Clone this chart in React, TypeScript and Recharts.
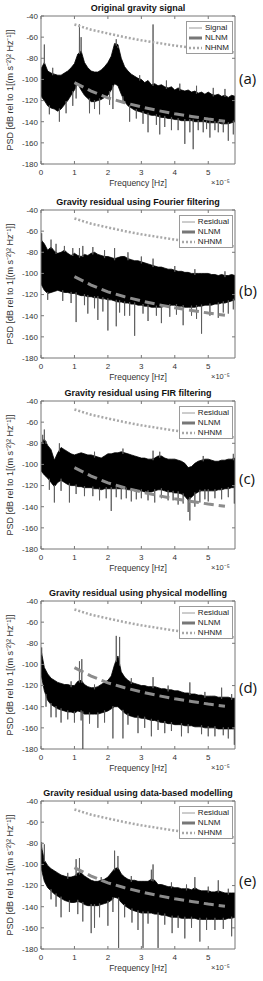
import { ComposedChart, Area, Line, XAxis, YAxis, ReferenceArea } from "recharts";

// frequency grid (x 1e-5 Hz)
const FREQ = [
  0, 0.1, 0.2, 0.3, 0.4, 0.5, 0.6, 0.7, 0.8, 0.9, 1, 1.1, 1.2, 1.3, 1.4, 1.5, 1.6, 1.7, 1.8, 1.9,
  2, 2.1, 2.2, 2.3, 2.4, 2.5, 2.6, 2.7, 2.8, 2.9, 3, 3.1, 3.2, 3.3, 3.4, 3.5, 3.6, 3.7, 3.8, 3.9,
  4, 4.1, 4.2, 4.3, 4.4, 4.5, 4.6, 4.7, 4.8, 4.9, 5, 5.1, 5.2, 5.3, 5.4, 5.5, 5.6, 5.7, 5.8,
];

// dense part of each PSD (upper / lower edge, dB)
const A_HI = [
  -90, -84, -92, -94, -95, -96, -96, -94, -92, -89, -85, -76, -73, -84, -89, -92, -93, -93, -91, -88,
  -84, -78, -66, -67, -80, -88, -92, -95, -97, -99, -100, -103, -101, -105, -104, -106, -105, -107, -108, -107,
  -110, -108, -110, -111, -110, -112, -111, -113, -112, -114, -112, -114, -115, -114, -116, -115, -117, -115, -116,
];
const A_LO = [
  -116, -120, -125, -127, -128, -130, -128, -124, -120, -115, -110, -104, -110, -115, -118, -121, -121, -120, -119, -117,
  -115, -110, -104, -106, -114, -121, -125, -127, -129, -130, -131, -132, -133, -134, -134, -135, -136, -136, -137, -137,
  -138, -138, -139, -139, -139, -139, -140, -140, -140, -140, -141, -141, -141, -141, -142, -142, -142, -141, -140,
];
const B_HI = [
  -68, -72, -78, -75, -79, -81, -80, -78, -81, -83, -81, -83, -84, -82, -83, -81, -80, -82, -83, -84,
  -84, -85, -86, -85, -84, -84, -86, -87, -88, -88, -89, -90, -91, -92, -93, -94, -94, -95, -96, -96,
  -97, -98, -98, -99, -99, -100, -100, -100, -100, -100, -100, -101, -101, -102, -101, -102, -102, -101, -102,
];
const B_LO = [
  -110, -116, -119, -118, -117, -116, -117, -118, -118, -119, -119, -120, -121, -121, -122, -122, -123, -123, -124, -124,
  -125, -125, -126, -127, -127, -128, -128, -129, -129, -130, -130, -131, -131, -132, -132, -132, -132, -131, -131, -130,
  -130, -131, -131, -132, -132, -132, -132, -131, -131, -130, -130, -130, -129, -129, -128, -128, -127, -126, -125,
];
const C_HI = [
  -80, -76, -82, -86, -96, -89, -84, -86, -88, -90, -91, -90, -89, -90, -91, -91, -92, -93, -94, -92,
  -90, -90, -89, -89, -88, -89, -90, -91, -92, -93, -94, -94, -95, -95, -94, -92, -92, -94, -95, -95,
  -95, -96, -97, -99, -103, -102, -99, -97, -96, -95, -95, -96, -97, -97, -96, -96, -95, -95, -94,
];
const C_LO = [
  -106, -110, -113, -117, -121, -117, -115, -117, -119, -120, -120, -121, -121, -122, -122, -122, -123, -123, -124, -123,
  -123, -123, -123, -123, -123, -123, -124, -124, -125, -125, -125, -126, -126, -126, -125, -124, -124, -125, -126, -126,
  -127, -127, -128, -130, -134, -131, -128, -126, -125, -125, -125, -125, -125, -124, -124, -123, -123, -122, -122,
];
const D_HI = [
  -86, -103, -109, -113, -115, -117, -118, -119, -119, -120, -120, -116, -115, -119, -121, -122, -122, -121, -119, -117,
  -115, -111, -100, -92, -107, -112, -115, -117, -118, -119, -120, -120, -121, -121, -121, -122, -123, -123, -124, -124,
  -125, -125, -126, -127, -127, -128, -128, -129, -129, -130, -130, -130, -130, -131, -131, -131, -131, -132, -132,
];
const D_LO = [
  -109, -125, -134, -138, -140, -142, -143, -144, -145, -145, -146, -144, -145, -147, -147, -147, -147, -147, -146, -145,
  -144, -142, -140, -140, -143, -146, -148, -149, -150, -150, -151, -151, -152, -153, -153, -154, -155, -155, -156, -156,
  -157, -157, -157, -158, -158, -158, -159, -159, -159, -160, -160, -160, -160, -161, -161, -161, -161, -161, -161,
];
const E_HI = [
  -81, -96, -101, -104, -106, -108, -110, -111, -112, -112, -111, -108, -108, -111, -113, -115, -116, -116, -115, -114,
  -112, -108, -104, -103, -109, -112, -114, -115, -115, -116, -116, -116, -116, -114, -115, -119, -119, -120, -121, -121,
  -122, -122, -123, -123, -123, -124, -122, -124, -125, -125, -125, -126, -126, -125, -126, -127, -127, -127, -127,
];
const E_LO = [
  -103, -116, -122, -125, -128, -130, -132, -134, -135, -136, -136, -135, -136, -138, -139, -139, -139, -139, -138, -137,
  -136, -134, -131, -132, -136, -139, -141, -143, -144, -145, -146, -146, -146, -146, -147, -147, -148, -148, -149, -150,
  -150, -150, -151, -151, -151, -151, -151, -152, -152, -152, -152, -152, -152, -152, -152, -152, -151, -151, -150,
];

// isolated spikes [freq, tip dB]
const A_SPIKES: [number, number][] = [
  [0.1, -67], [0.25, -133], [0.35, -89], [0.55, -140], [0.75, -132], [0.95, -125], [1.05, -118], [1.15, -48],
  [1.2, -60], [1.45, -132], [1.6, -128], [1.75, -133], [2.05, -124], [2.15, -128], [2.25, -62], [2.3, -70],
  [2.45, -122], [2.65, -140], [2.85, -137], [2.95, -96], [3.05, -142], [3.2, -150], [3.35, -48], [3.45, -143],
  [3.55, -152], [3.7, -145], [3.75, -101], [3.9, -148], [4.1, -148], [4.15, -104], [4.3, -161], [4.45, -150],
  [4.55, -166], [4.65, -106], [4.7, -148], [4.85, -150], [4.95, -147], [5.05, -155], [5.15, -108], [5.2, -148],
  [5.3, -150], [5.45, -150], [5.5, -109], [5.6, -158], [5.75, -152],
];
const B_SPIKES: [number, number][] = [
  [0.02, -62], [0.2, -125], [0.3, -68], [0.45, -72], [0.65, -126], [0.7, -74], [0.9, -128], [0.95, -76],
  [1.05, -146], [1.15, -76], [1.25, -74], [1.3, -130], [1.4, -138], [1.55, -75], [1.6, -133], [1.7, -144],
  [1.85, -136], [1.9, -78], [2.0, -154], [2.2, -76], [2.25, -150], [2.35, -137], [2.5, -140], [2.6, -80],
  [2.65, -140], [2.8, -159], [3.0, -84], [3.05, -138], [3.2, -145], [3.35, -86], [3.45, -140], [3.6, -147],
  [3.85, -141], [4.0, -93], [4.05, -139], [4.25, -149], [4.5, -140], [4.6, -96], [4.65, -143], [4.8, -157],
  [5.05, -140], [5.3, -142], [5.45, -137], [5.5, -98], [5.6, -138], [5.75, -134],
];
const C_SPIKES: [number, number][] = [
  [0.05, -72], [0.1, -67], [0.15, -78], [0.25, -124], [0.4, -136], [0.55, -80], [0.6, -125], [0.85, -136],
  [1.05, -128], [1.3, -130], [1.55, -130], [1.6, -88], [1.75, -134], [1.95, -132], [2.1, -144], [2.25, -131],
  [2.4, -133], [2.45, -85], [2.55, -132], [2.7, -135], [2.85, -133], [3.0, -132], [3.2, -134], [3.35, -87],
  [3.4, -136], [3.55, -88], [3.6, -132], [3.8, -134], [3.95, -134], [4.1, -138], [4.25, -137], [4.4, -145],
  [4.45, -153], [4.6, -140], [4.75, -136], [4.85, -92], [4.9, -133], [5.0, -135], [5.2, -132], [5.4, -133],
  [5.6, -131], [5.75, -90], [5.78, -137],
];
const D_SPIKES: [number, number][] = [
  [0.02, -84], [0.15, -140], [0.3, -150], [0.45, -150], [0.6, -155], [0.8, -152], [0.9, -116], [1.0, -155],
  [1.15, -97], [1.2, -153], [1.22, -95], [1.25, -180], [1.45, -156], [1.6, -119], [1.7, -160], [1.9, -155],
  [2.15, -170], [2.25, -73], [2.35, -74], [2.45, -170], [2.6, -157], [2.7, -113], [2.9, -165], [3.1, -160],
  [3.3, -168], [3.35, -112], [3.5, -162], [3.7, -165], [3.8, -120], [3.9, -163], [4.2, -168], [4.4, -165],
  [4.45, -117], [4.8, -166], [4.9, -126], [5.0, -168], [5.2, -168], [5.4, -122], [5.45, -167], [5.6, -170],
  [5.7, -128], [5.78, -176],
];
const E_SPIKES: [number, number][] = [
  [0.02, -79], [0.1, -81], [0.3, -133], [0.45, -140], [0.6, -150], [0.8, -108], [0.85, -145], [1.05, -95],
  [1.1, -147], [1.15, -94], [1.25, -154], [1.5, -165], [1.6, -160], [1.75, -150], [1.8, -112], [2.0, -158],
  [2.15, -145], [2.2, -87], [2.3, -92], [2.32, -179], [2.5, -150], [2.7, -111], [2.72, -155], [2.9, -162],
  [3.05, -179], [3.2, -156], [3.3, -105], [3.35, -100], [3.5, -179], [3.7, -157], [3.9, -117], [3.92, -165],
  [4.1, -160], [4.3, -170], [4.35, -119], [4.5, -160], [4.6, -112], [4.75, -173], [4.95, -162], [5.0, -121],
  [5.2, -162], [5.3, -115], [5.45, -161], [5.6, -123], [5.7, -168],
];

// Peterson noise models
const NLNM_FREQ = [1.0, 1.5, 2.0, 2.5, 3.0, 3.5, 4.0, 4.5, 5.0, 5.5];
const NLNM_DB = [-103, -111, -117.5, -122, -126, -129.5, -132.5, -135, -137.5, -139.5];
const NHNM_FREQ = [1.0, 1.5, 2.0, 2.5, 3.0, 3.5, 4.0, 4.5, 5.0, 5.5, 5.8];
const NHNM_DB = [-48, -53, -56.5, -60, -63, -65.5, -68, -70, -72, -73.5, -74.5];

const X_TICKS = [0, 1, 2, 3, 4, 5];
const Y_TICKS = [-180, -160, -140, -120, -100, -80, -60, -40];

const FONT = "'Liberation Sans', Arial, sans-serif";

const PANELS = [
  { title: "Original gravity signal", trace: "Signal", letter: "(a)", hi: A_HI, lo: A_LO, spikes: A_SPIKES, top: 16, letterY: 62 },
  { title: "Gravity residual using Fourier filtering", trace: "Residual", letter: "(b)", hi: B_HI, lo: B_LO, spikes: B_SPIKES, top: 210, letterY: 80 },
  { title: "Gravity residual using FIR filtering", trace: "Residual", letter: "(c)", hi: C_HI, lo: C_LO, spikes: C_SPIKES, top: 401, letterY: 77 },
  { title: "Gravity residual using physical modelling", trace: "Residual", letter: "(d)", hi: D_HI, lo: D_LO, spikes: D_SPIKES, top: 601, letterY: 86 },
  { title: "Gravity residual using data-based modelling", trace: "Residual", letter: "(e)", hi: E_HI, lo: E_LO, spikes: E_SPIKES, top: 801, letterY: 79 },
];

const nlnmData = NLNM_FREQ.map((f, i) => ({ f, v: NLNM_DB[i] }));
const nhnmData = NHNM_FREQ.map((f, i) => ({ f, v: NHNM_DB[i] }));

// edge of the dense band at a spike's frequency, so the spike starts there
function edgeAt(arr: number[], f: number) {
  const i = Math.min(57, Math.floor(f * 10 + 1e-9));
  const t = f * 10 - i;
  return arr[i] * (1 - t) + arr[i + 1] * t;
}

function spikeLine(hi: number[], lo: number[], spikes: [number, number][]) {
  const pts: { f: number; v: number | null }[] = [];
  [...spikes]
    .sort((a, b) => a[0] - b[0])
    .forEach(([f, tip]) => {
      const top = edgeAt(hi, f);
      const bot = edgeAt(lo, f);
      const base = tip > (top + bot) / 2 ? top - 1.5 : bot + 1.5;
      pts.push({ f: f - 0.004, v: base }, { f, v: tip }, { f: f + 0.004, v: base }, { f: f + 0.005, v: null });
    });
  return pts;
}

const PLOT_H = 148;
const TOP_M = 16;
const AXIS_TICK = { fontSize: 8, fill: "#333", fontFamily: FONT };
// mirrored box axes: tick marks only, no labels
const noLabel = () => <g />;

function LegendBox({ trace, top }: { trace: string; top: number }) {
  const rows = [
    { name: trace, el: <line x1={0} y1={5} x2={13} y2={5} stroke="#9a9a9a" strokeWidth={1} /> },
    { name: "NLNM", el: <line x1={0} y1={5} x2={13} y2={5} stroke="#777" strokeWidth={3} /> },
    { name: "NHNM", el: <line x1={0} y1={5} x2={13} y2={5} stroke="#a8a8a8" strokeWidth={2.5} strokeDasharray="2 2" /> },
  ];
  return (
    <div
      style={{
        position: "absolute",
        right: 30,
        top: top + 5,
        background: "#fff",
        border: "1px solid #9a9a9a",
        padding: "1px 3px 0px 2px",
        fontSize: 8,
        lineHeight: "10px",
        color: "#222",
        fontFamily: FONT,
      }}
    >
      {rows.map((r) => (
        <div key={r.name} style={{ display: "flex", alignItems: "center", height: 10 }}>
          <svg width={14} height={10} style={{ marginRight: 2 }}>
            {r.el}
          </svg>
          <span>{r.name}</span>
        </div>
      ))}
    </div>
  );
}

function Panel({ p }: { p: (typeof PANELS)[number] }) {
  const band = FREQ.map((f, i) => ({ f, band: [p.lo[i], p.hi[i]] }));
  const spikes = spikeLine(p.hi, p.lo, p.spikes);
  const plotBottom = p.top + PLOT_H;
  return (
    <>
      <div style={{ position: "absolute", left: 0, top: p.top - TOP_M }}>
        <ComposedChart
          width={263}
          height={TOP_M + PLOT_H + 30}
          data={band}
          margin={{ top: 0, right: 0, left: 0, bottom: 0 }}
        >
          <XAxis
            dataKey="f"
            type="number"
            domain={[0, 5.8]}
            ticks={X_TICKS}
            allowDataOverflow
            height={30}
            axisLine={false}
            tickSize={-3}
            tickMargin={8}
            tickLine={{ stroke: "#777" }}
            tick={AXIS_TICK}
          />
          <XAxis
            xAxisId="top"
            orientation="top"
            dataKey="f"
            type="number"
            domain={[0, 5.8]}
            ticks={X_TICKS}
            allowDataOverflow
            height={TOP_M}
            axisLine={false}
            tickSize={-3}
            tickLine={{ stroke: "#777" }}
            tick={noLabel}
          />
          <YAxis
            type="number"
            domain={[-180, -40]}
            ticks={Y_TICKS}
            allowDataOverflow
            width={41}
            axisLine={false}
            tickSize={-3}
            tickMargin={6}
            tickLine={{ stroke: "#777" }}
            tick={AXIS_TICK}
          />
          <YAxis
            yAxisId="right"
            orientation="right"
            type="number"
            domain={[-180, -40]}
            ticks={Y_TICKS}
            allowDataOverflow
            width={28}
            axisLine={false}
            tickSize={-3}
            tickLine={{ stroke: "#777" }}
            tick={noLabel}
          />
          <Area
            dataKey="band"
            stroke="#000"
            strokeWidth={0.8}
            fill="#000"
            fillOpacity={1}
            dot={false}
            activeDot={false}
            isAnimationActive={false}
          />
          <Line
            data={spikes}
            dataKey="v"
            stroke="#5a5a5a"
            strokeWidth={0.9}
            dot={false}
            activeDot={false}
            connectNulls={false}
            isAnimationActive={false}
          />
          <Line
            data={nlnmData}
            dataKey="v"
            stroke="#8c8c8c"
            strokeWidth={3}
            strokeDasharray="10 5"
            dot={false}
            activeDot={false}
            isAnimationActive={false}
          />
          <Line
            data={nhnmData}
            dataKey="v"
            stroke="#a8a8a8"
            strokeWidth={2.5}
            strokeDasharray="2 2"
            dot={false}
            activeDot={false}
            isAnimationActive={false}
          />
          <ReferenceArea x1={0} x2={5.8} y1={-180} y2={-40} fill="none" stroke="#777" strokeWidth={1} />
        </ComposedChart>
      </div>
      <div
        style={{
          position: "absolute",
          left: 41,
          width: 194,
          top: p.top - 13,
          textAlign: "center",
          fontSize: 9,
          fontWeight: "bold",
          lineHeight: "11px",
          fontFamily: FONT,
          whiteSpace: "nowrap",
          color: "#111",
        }}
      >
        {p.title}
      </div>
      <div
        style={{
          position: "absolute",
          left: 10 - 90,
          width: 180,
          top: p.top + PLOT_H / 2 - 5,
          textAlign: "center",
          fontSize: 9,
          lineHeight: "10px",
          fontFamily: FONT,
          whiteSpace: "nowrap",
          color: "#333",
          transform: "rotate(-90deg)",
        }}
      >
        PSD [dB rel to 1[(m s⁻²)² Hz⁻¹]]
      </div>
      <div
        style={{
          position: "absolute",
          left: 41,
          width: 194,
          top: plotBottom + 14,
          textAlign: "center",
          fontSize: 8.5,
          lineHeight: "10px",
          fontFamily: FONT,
          color: "#333",
        }}
      >
        Frequency [Hz]
      </div>
      <div
        style={{
          position: "absolute",
          left: 211,
          top: plotBottom + 14,
          fontSize: 7.5,
          lineHeight: "10px",
          fontFamily: FONT,
          color: "#333",
        }}
      >
        ×10⁻⁵
      </div>
      <div
        style={{
          position: "absolute",
          left: 239,
          top: p.top + p.letterY - 9,
          fontSize: 15,
          lineHeight: "18px",
          fontFamily: "'Open Sans', sans-serif",
          color: "#111",
        }}
      >
        {p.letter}
      </div>
      <LegendBox trace={p.trace} top={p.top} />
    </>
  );
}

export default function App() {
  return (
    <div
      style={{
        position: "absolute",
        left: 0,
        top: 0,
        width: 263,
        height: 981,
        background: "#fff",
        overflow: "hidden",
      }}
    >
      {PANELS.map((p) => (
        <Panel key={p.letter} p={p} />
      ))}
    </div>
  );
}
